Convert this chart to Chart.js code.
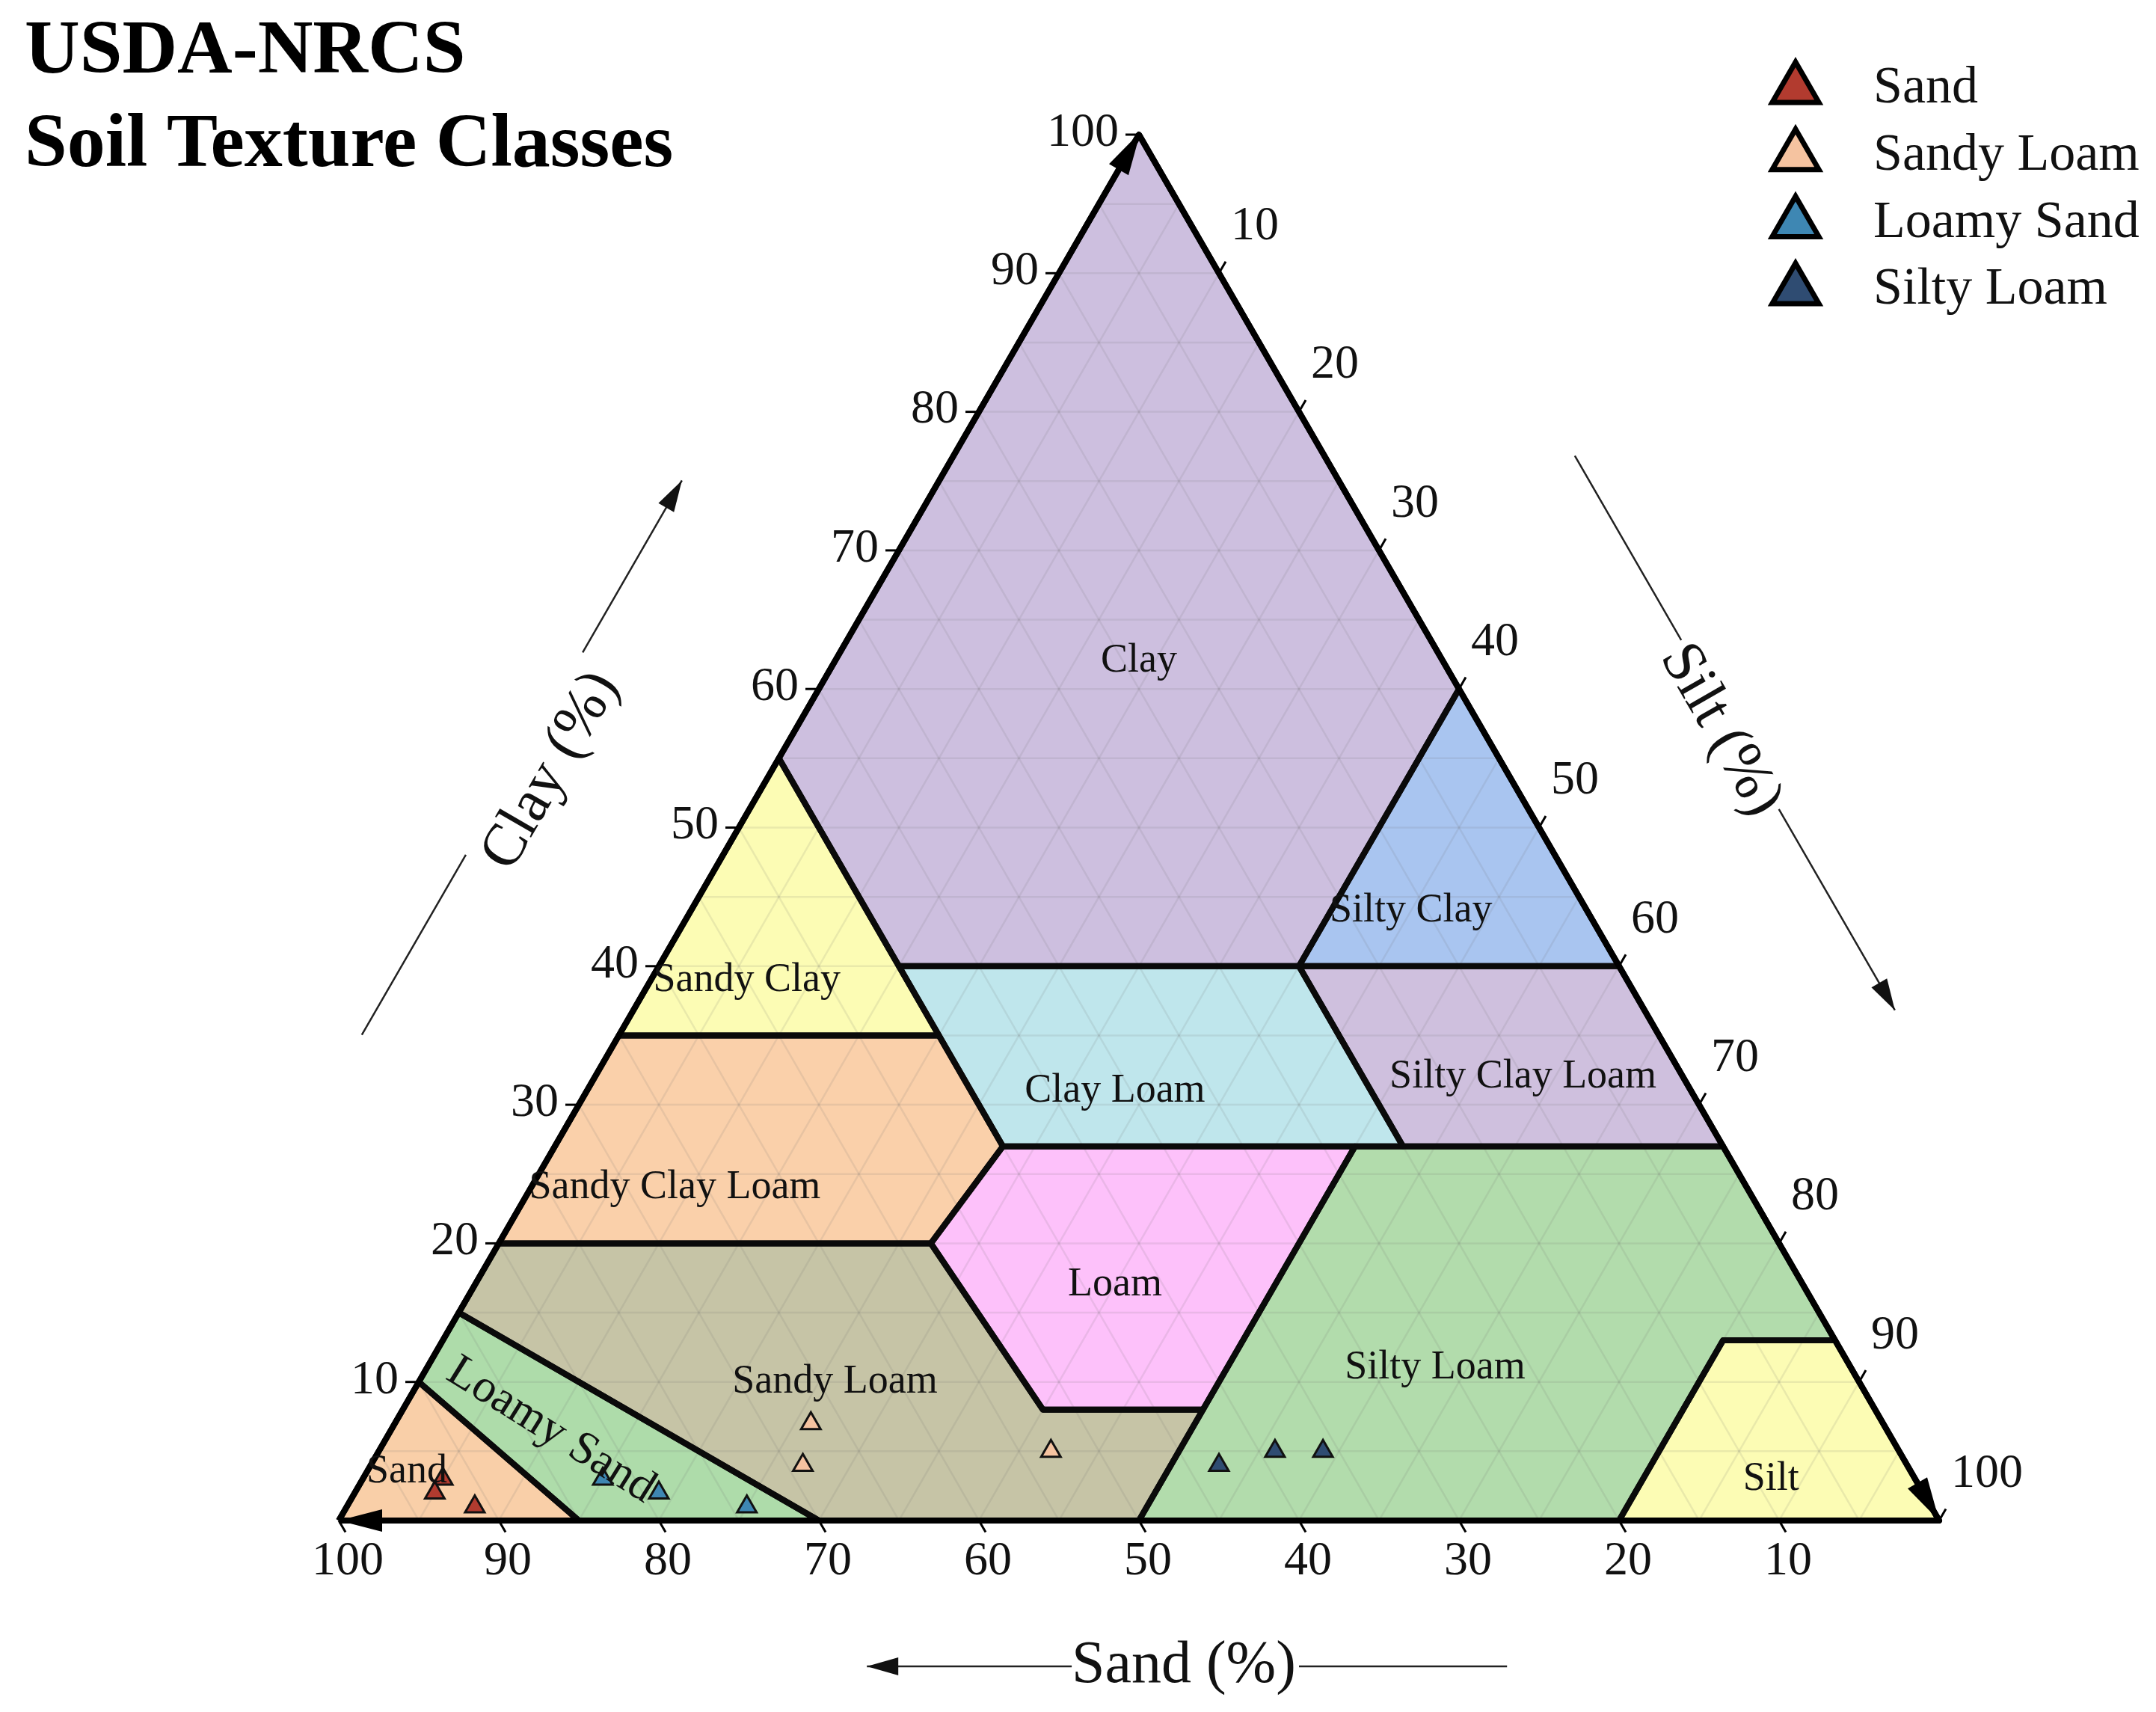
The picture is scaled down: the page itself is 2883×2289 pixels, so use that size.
<!DOCTYPE html>
<html>
<head>
<meta charset="utf-8">
<title>USDA-NRCS Soil Texture Classes</title>
<script src="https://cdn.jsdelivr.net/npm/chart.js@4.4.1/dist/chart.umd.min.js"></script>
<style>
  html, body { margin: 0; padding: 0; background: #ffffff; }
  #wrap { width: 2883px; height: 2289px; position: relative; }
</style>
</head>
<body>
<div id="wrap"><canvas id="soilTriangle"></canvas></div>
<script>
// every ternary value is [sand, silt, clay] in percent

const classNames = ['Clay', 'Silty Clay', 'Sandy Clay', 'Clay Loam', 'Silty Clay Loam',
  'Sandy Clay Loam', 'Loam', 'Sandy Loam', 'Silty Loam', 'Loamy Sand', 'Sand', 'Silt'];

const classPolygons = [
  [[0, 0, 100], [45, 0, 55], [45, 15, 40], [20, 40, 40], [0, 40, 60]],
  [[20, 40, 40], [0, 60, 40], [0, 40, 60]],
  [[45, 0, 55], [65, 0, 35], [45, 20, 35]],
  [[45, 15, 40], [45, 28, 27], [20, 53, 27], [20, 40, 40]],
  [[20, 40, 40], [20, 53, 27], [0, 73, 27], [0, 60, 40]],
  [[65, 0, 35], [80, 0, 20], [53, 27, 20], [45, 28, 27], [45, 20, 35]],
  [[45, 28, 27], [53, 27, 20], [52, 40, 8], [42, 50, 8], [23, 50, 27]],
  [[80, 0, 20], [53, 27, 20], [52, 40, 8], [42, 50, 8], [50, 50, 0], [70, 30, 0], [85, 0, 15]],
  [[50, 50, 0], [20, 80, 0], [7, 80, 13], [0, 87, 13], [0, 73, 27], [23, 50, 27], [42, 50, 8]],
  [[85, 0, 15], [70, 30, 0], [85, 15, 0], [90, 0, 10]],
  [[100, 0, 0], [90, 0, 10], [85, 15, 0]],
  [[20, 80, 0], [0, 100, 0], [0, 87, 13], [7, 80, 13]]
];

const classColors = ['#cdbfdf', '#a9c5f0', '#fcfcb4', '#bfe6ec', '#cfc0de',
  '#fad0aa', '#fdc1fa', '#c6c4a6', '#b2dcac', '#aedcaa', '#f9cfa8', '#fcfcb4'];

// where each class name is written
const classLabelPos = [
  [19, 19, 62], [11, 45, 44], [55, 6, 39], [36, 33, 31], [10, 58, 32],
  [67, 9, 24], [43, 40, 17], [64, 26, 10], [26, 63, 11], [83.5, 10, 6.5], [94, 2.5, 3.5], [9, 88, 3]
];

const seriesNames = ['Sand', 'Sandy Loam', 'Loamy Sand', 'Silty Loam'];
const sandSamples = [[92, 5, 3], [93, 5, 2], [91, 8, 1]];
const sandyLoamSamples = [[67, 26, 7], [69, 27, 4], [53, 42, 5]];
const loamySandSamples = [[82, 15, 3], [79, 19, 2], [74, 25, 1]];
const siltyLoamSamples = [[43, 53, 4], [39, 56, 5], [36, 59, 5]];
const seriesColors = ['#b23b2f', '#f5c3a0', '#3e87b3', '#2f4c72'];

const axisCorners = [[100, 0, 0], [0, 0, 100], [0, 100, 0]];
const gridSteps = [5, 10, 15, 20, 25, 30, 35, 40, 45, 50, 55, 60, 65, 70, 75, 80, 85, 90, 95];
const tickValues = [10, 20, 30, 40, 50, 60, 70, 80, 90, 100];

const SQ = Math.sqrt(3) / 2;
const toXY = t => ({ x: t[1] + t[2] / 2, y: t[2] * SQ });
const FONT = '"Liberation Serif", "Times New Roman", serif';

function gridLine(kind, v) {
  if (kind === 'clay') return [[100 - v, 0, v], [0, 100 - v, v]];
  if (kind === 'silt') return [[100 - v, v, 0], [0, v, 100 - v]];
  return [[v, 100 - v, 0], [v, 0, 100 - v]];
}

const datasets = [];

// class areas
classPolygons.forEach((poly, i) => {
  datasets.push({
    label: classNames[i],
    data: poly.concat([poly[0]]).map(toXY),
    showLine: true,
    fill: 'shape',
    backgroundColor: classColors[i],
    borderColor: 'rgba(0,0,0,0)',
    borderWidth: 0,
    pointRadius: 0,
    order: 30
  });
});

// faint 5% grid
['clay', 'silt', 'sand'].forEach(kind => {
  const pts = [];
  gridSteps.forEach(v => {
    const seg = gridLine(kind, v);
    pts.push(toXY(seg[0]), toXY(seg[1]), { x: 0, y: null });
  });
  datasets.push({
    label: 'grid ' + kind,
    data: pts,
    showLine: true,
    spanGaps: false,
    fill: false,
    borderColor: 'rgba(110,110,110,0.13)',
    borderWidth: 2.5,
    pointRadius: 0,
    order: 20
  });
});

// class boundaries
classPolygons.forEach((poly, i) => {
  datasets.push({
    label: classNames[i] + ' border',
    data: poly.concat([poly[0]]).map(toXY),
    showLine: true,
    fill: false,
    borderColor: '#0a0a0a',
    borderWidth: 8,
    borderJoinStyle: 'round',
    pointRadius: 0,
    clip: false,
    order: 10
  });
});

// outer triangle
datasets.push({
  label: 'frame',
  data: axisCorners.concat([axisCorners[0]]).map(toXY),
  showLine: true,
  fill: false,
  borderColor: '#000000',
  borderWidth: 8,
  borderJoinStyle: 'round',
  pointRadius: 0,
  clip: false,
  order: 5
});

// sample points
[sandSamples, sandyLoamSamples, loamySandSamples, siltyLoamSamples].forEach((s, i) => {
  datasets.push({
    label: seriesNames[i],
    data: s.map(toXY),
    showLine: false,
    pointStyle: 'triangle',
    pointRadius: 15,
    pointHoverRadius: 15,
    pointBackgroundColor: seriesColors[i],
    pointBorderColor: '#111111',
    pointBorderWidth: 3,
    clip: false,
    order: 1
  });
});

function arrowHead(ctx, tip, dir, len, half) {
  const bx = tip.x - dir.x * len, by = tip.y - dir.y * len;
  ctx.beginPath();
  ctx.moveTo(tip.x, tip.y);
  ctx.lineTo(bx - dir.y * half, by + dir.x * half);
  ctx.lineTo(bx + dir.y * half, by - dir.x * half);
  ctx.closePath();
  ctx.fill();
}

function triangleMark(ctx, x, y, r) {
  ctx.beginPath();
  for (let k = 0; k < 3; k++) {
    const a = k * 2 * Math.PI / 3;
    const vx = x + Math.sin(a) * r, vy = y - Math.cos(a) * r;
    if (k === 0) ctx.moveTo(vx, vy); else ctx.lineTo(vx, vy);
  }
  ctx.closePath();
}

const ternaryDecor = {
  id: 'ternaryDecor',
  afterDatasetsDraw(chart) {
    const ctx = chart.ctx;
    const xs = chart.scales.x, ys = chart.scales.y;
    const px = t => {
      const p = toXY(t);
      return { x: xs.getPixelForValue(p.x), y: ys.getPixelForValue(p.y) };
    };
    const up = { x: 0.5, y: -SQ }, down = { x: 0.5, y: SQ }, left = { x: -1, y: 0 };

    ctx.save();

    // arrow heads on the frame corners
    ctx.fillStyle = '#000';
    const top = px(axisCorners[1]);
    arrowHead(ctx, { x: top.x + up.x * 4, y: top.y + up.y * 4 }, up, 58, 15);
    arrowHead(ctx, px(axisCorners[0]), left, 58, 15);
    arrowHead(ctx, px(axisCorners[2]), down, 58, 15);

    // ticks and tick labels
    ctx.strokeStyle = '#000';
    ctx.lineWidth = 3;
    ctx.fillStyle = '#111';
    ctx.font = '64px ' + FONT;
    tickValues.forEach(v => {
      // clay, left edge
      let p = px([100 - v, 0, v]);
      ctx.beginPath(); ctx.moveTo(p.x, p.y); ctx.lineTo(p.x - 18, p.y); ctx.stroke();
      ctx.textAlign = 'right'; ctx.textBaseline = 'middle';
      ctx.fillText(String(v), p.x - 27, p.y - 2);
      // silt, right edge
      p = px([0, v, 100 - v]);
      ctx.beginPath(); ctx.moveTo(p.x, p.y); ctx.lineTo(p.x + up.x * 18, p.y + up.y * 18); ctx.stroke();
      ctx.textAlign = 'left';
      ctx.fillText(String(v), p.x + 16, p.y - 62);
      // sand, bottom edge
      p = px([v, 100 - v, 0]);
      ctx.beginPath(); ctx.moveTo(p.x, p.y); ctx.lineTo(p.x + down.x * 18, p.y + down.y * 18); ctx.stroke();
      ctx.textAlign = 'center';
      ctx.fillText(String(v), p.x + 12, p.y + 55);
    });

    // class names
    ctx.textAlign = 'center';
    ctx.textBaseline = 'middle';
    ctx.fillStyle = '#111';
    classLabelPos.forEach((t, i) => {
      const p = px(t);
      ctx.save();
      ctx.translate(p.x, p.y);
      if (classNames[i] === 'Loamy Sand') {
        ctx.rotate(32 * Math.PI / 180);
        ctx.font = '62px ' + FONT;
      } else {
        ctx.font = '54px ' + FONT;
      }
      ctx.fillText(classNames[i], 0, 0);
      ctx.restore();
    });

    // axis titles with arrows
    const axisTitle = (edgePt, outward, off, from, to, gapA, gapB, at, textOff, angle, text) => {
      const q = (v, o) => {
        const e = px(edgePt(v));
        return { x: e.x + outward.x * o, y: e.y + outward.y * o };
      };
      const a = q(from, off), g1 = q(gapA, off), g2 = q(gapB, off), b = q(to, off);
      ctx.strokeStyle = '#222';
      ctx.fillStyle = '#111';
      ctx.lineWidth = 2.5;
      ctx.beginPath(); ctx.moveTo(a.x, a.y); ctx.lineTo(g1.x, g1.y);
      ctx.moveTo(g2.x, g2.y); ctx.lineTo(b.x, b.y); ctx.stroke();
      const dx = b.x - g2.x, dy = b.y - g2.y, dl = Math.hypot(dx, dy);
      arrowHead(ctx, b, { x: dx / dl, y: dy / dl }, 42, 12);
      const c = q(at, textOff);
      ctx.save();
      ctx.translate(c.x, c.y);
      ctx.rotate(angle);
      ctx.font = '80px ' + FONT;
      ctx.textAlign = 'center';
      ctx.textBaseline = 'middle';
      ctx.fillText(text, 0, 0);
      ctx.restore();
    };
    axisTitle(v => [100 - v, 0, v], { x: -SQ, y: -0.5 }, 298, 27, 67, 40, 54.6, 47.2, 255, -Math.PI / 3, 'Clay (%)');
    axisTitle(v => [0, v, 100 - v], { x: SQ, y: -0.5 }, 290, 31, 71, 44.3, 56.5, 50.4, 275, Math.PI / 3, 'Silt (%)');
    axisTitle(v => [v, 100 - v, 0], { x: 0, y: 1 }, 195, 27, 67, 40, 54.2, 47.2, 195, 0, 'Sand (%)');

    // title
    ctx.fillStyle = '#000';
    ctx.textAlign = 'left';
    ctx.textBaseline = 'alphabetic';
    ctx.font = 'bold 102px ' + FONT;
    ctx.fillText('USDA-NRCS', 33, 97);
    ctx.fillText('Soil Texture Classes', 33, 222);

    // legend
    ctx.font = '70px ' + FONT;
    ctx.textBaseline = 'middle';
    seriesNames.forEach((name, i) => {
      const y = 119 + i * 89.7;
      triangleMark(ctx, 2401, y, 36);
      ctx.fillStyle = seriesColors[i];
      ctx.fill();
      ctx.lineWidth = 7;
      ctx.strokeStyle = '#000';
      ctx.lineJoin = 'miter';
      ctx.stroke();
      ctx.fillStyle = '#111';
      ctx.fillText(name, 2505, y);
    });

    ctx.restore();
  }
};

new Chart(document.getElementById('soilTriangle'), {
  type: 'scatter',
  data: { datasets: datasets },
  options: {
    responsive: true,
    maintainAspectRatio: false,
    devicePixelRatio: 1,
    animation: false,
    events: [],
    layout: { padding: { left: 453, right: 290, top: 180, bottom: 256 } },
    scales: {
      x: { type: 'linear', min: 0, max: 100, display: false },
      y: { type: 'linear', min: 0, max: 100 * SQ, display: false }
    },
    plugins: {
      legend: { display: false },
      tooltip: { enabled: false }
    }
  },
  plugins: [ternaryDecor]
});
</script>
</body>
</html>
